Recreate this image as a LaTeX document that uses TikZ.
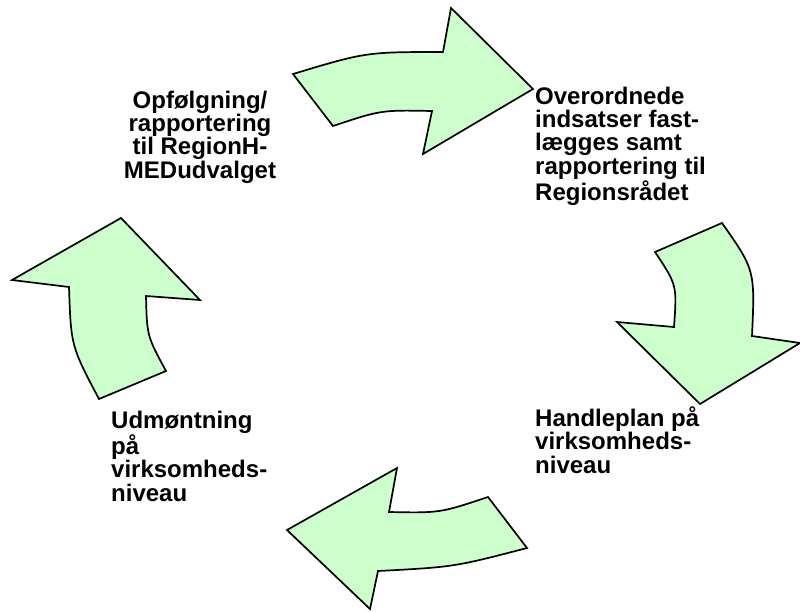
\documentclass[tikz,border=0pt]{standalone}
\usepackage{fontspec}
\setmainfont{Liberation Sans}
\definecolor{arrowfill}{HTML}{CCFFCC}
\begin{document}
\begin{tikzpicture}[x=1pt,y=-1pt,
  cyclearrow/.style={draw=black,fill=arrowfill,line width=1.7pt,line join=miter},
  steplabel/.style={inner sep=0pt,font=\bfseries\fontsize{24}{23.3}\selectfont}]
\useasboundingbox (0,0) rectangle (800,611);

% top arrow, pointing right
\draw[cyclearrow] (293,74) .. controls (366,52) .. (443,52) -- (451,8) -- (533,89)
  -- (423,154) -- (432,111) .. controls (381,110) .. (333,126) -- cycle;

% right arrow, pointing down
\draw[cyclearrow] (655,252) -- (722,223) .. controls (755,270) .. (752,336) -- (800,343)
  -- (700,404) -- (617,322) -- (674,327) .. controls (677,285) .. cycle;

% bottom arrow, pointing left
\draw[cyclearrow] (488,497) -- (527,548) .. controls (454,567) .. (378,571) -- (370,609)
  -- (287,530) -- (397,468) -- (389,512) .. controls (440,513) .. cycle;

% left arrow, pointing up
\draw[cyclearrow] (121,218) -- (200,300) -- (146,296) .. controls (147,336) .. (166,371)
  -- (99,399) .. controls (71,346) .. (69,287) -- (12,280) -- cycle;

% step labels (base anchor sits on the last line's baseline)
\node[steplabel,anchor=base,align=center] (follow) at (200,178)
  {Opfølgning/\\rapportering\\til RegionH-\\MEDudvalget};
\node[steplabel,anchor=base west,align=left] (overall) at (535,200)
  {Overordnede\\indsatser fast-\\lægges samt\\rapportering til\\Regionsrådet};
\node[steplabel,anchor=base west,align=left] (plan) at (535,473)
  {Handleplan på\\virksomheds-\\niveau};
\node[steplabel,anchor=base west,align=left] (implement) at (111,501)
  {Udmøntning\\på\\virksomheds-\\niveau};
\end{tikzpicture}
\end{document}
